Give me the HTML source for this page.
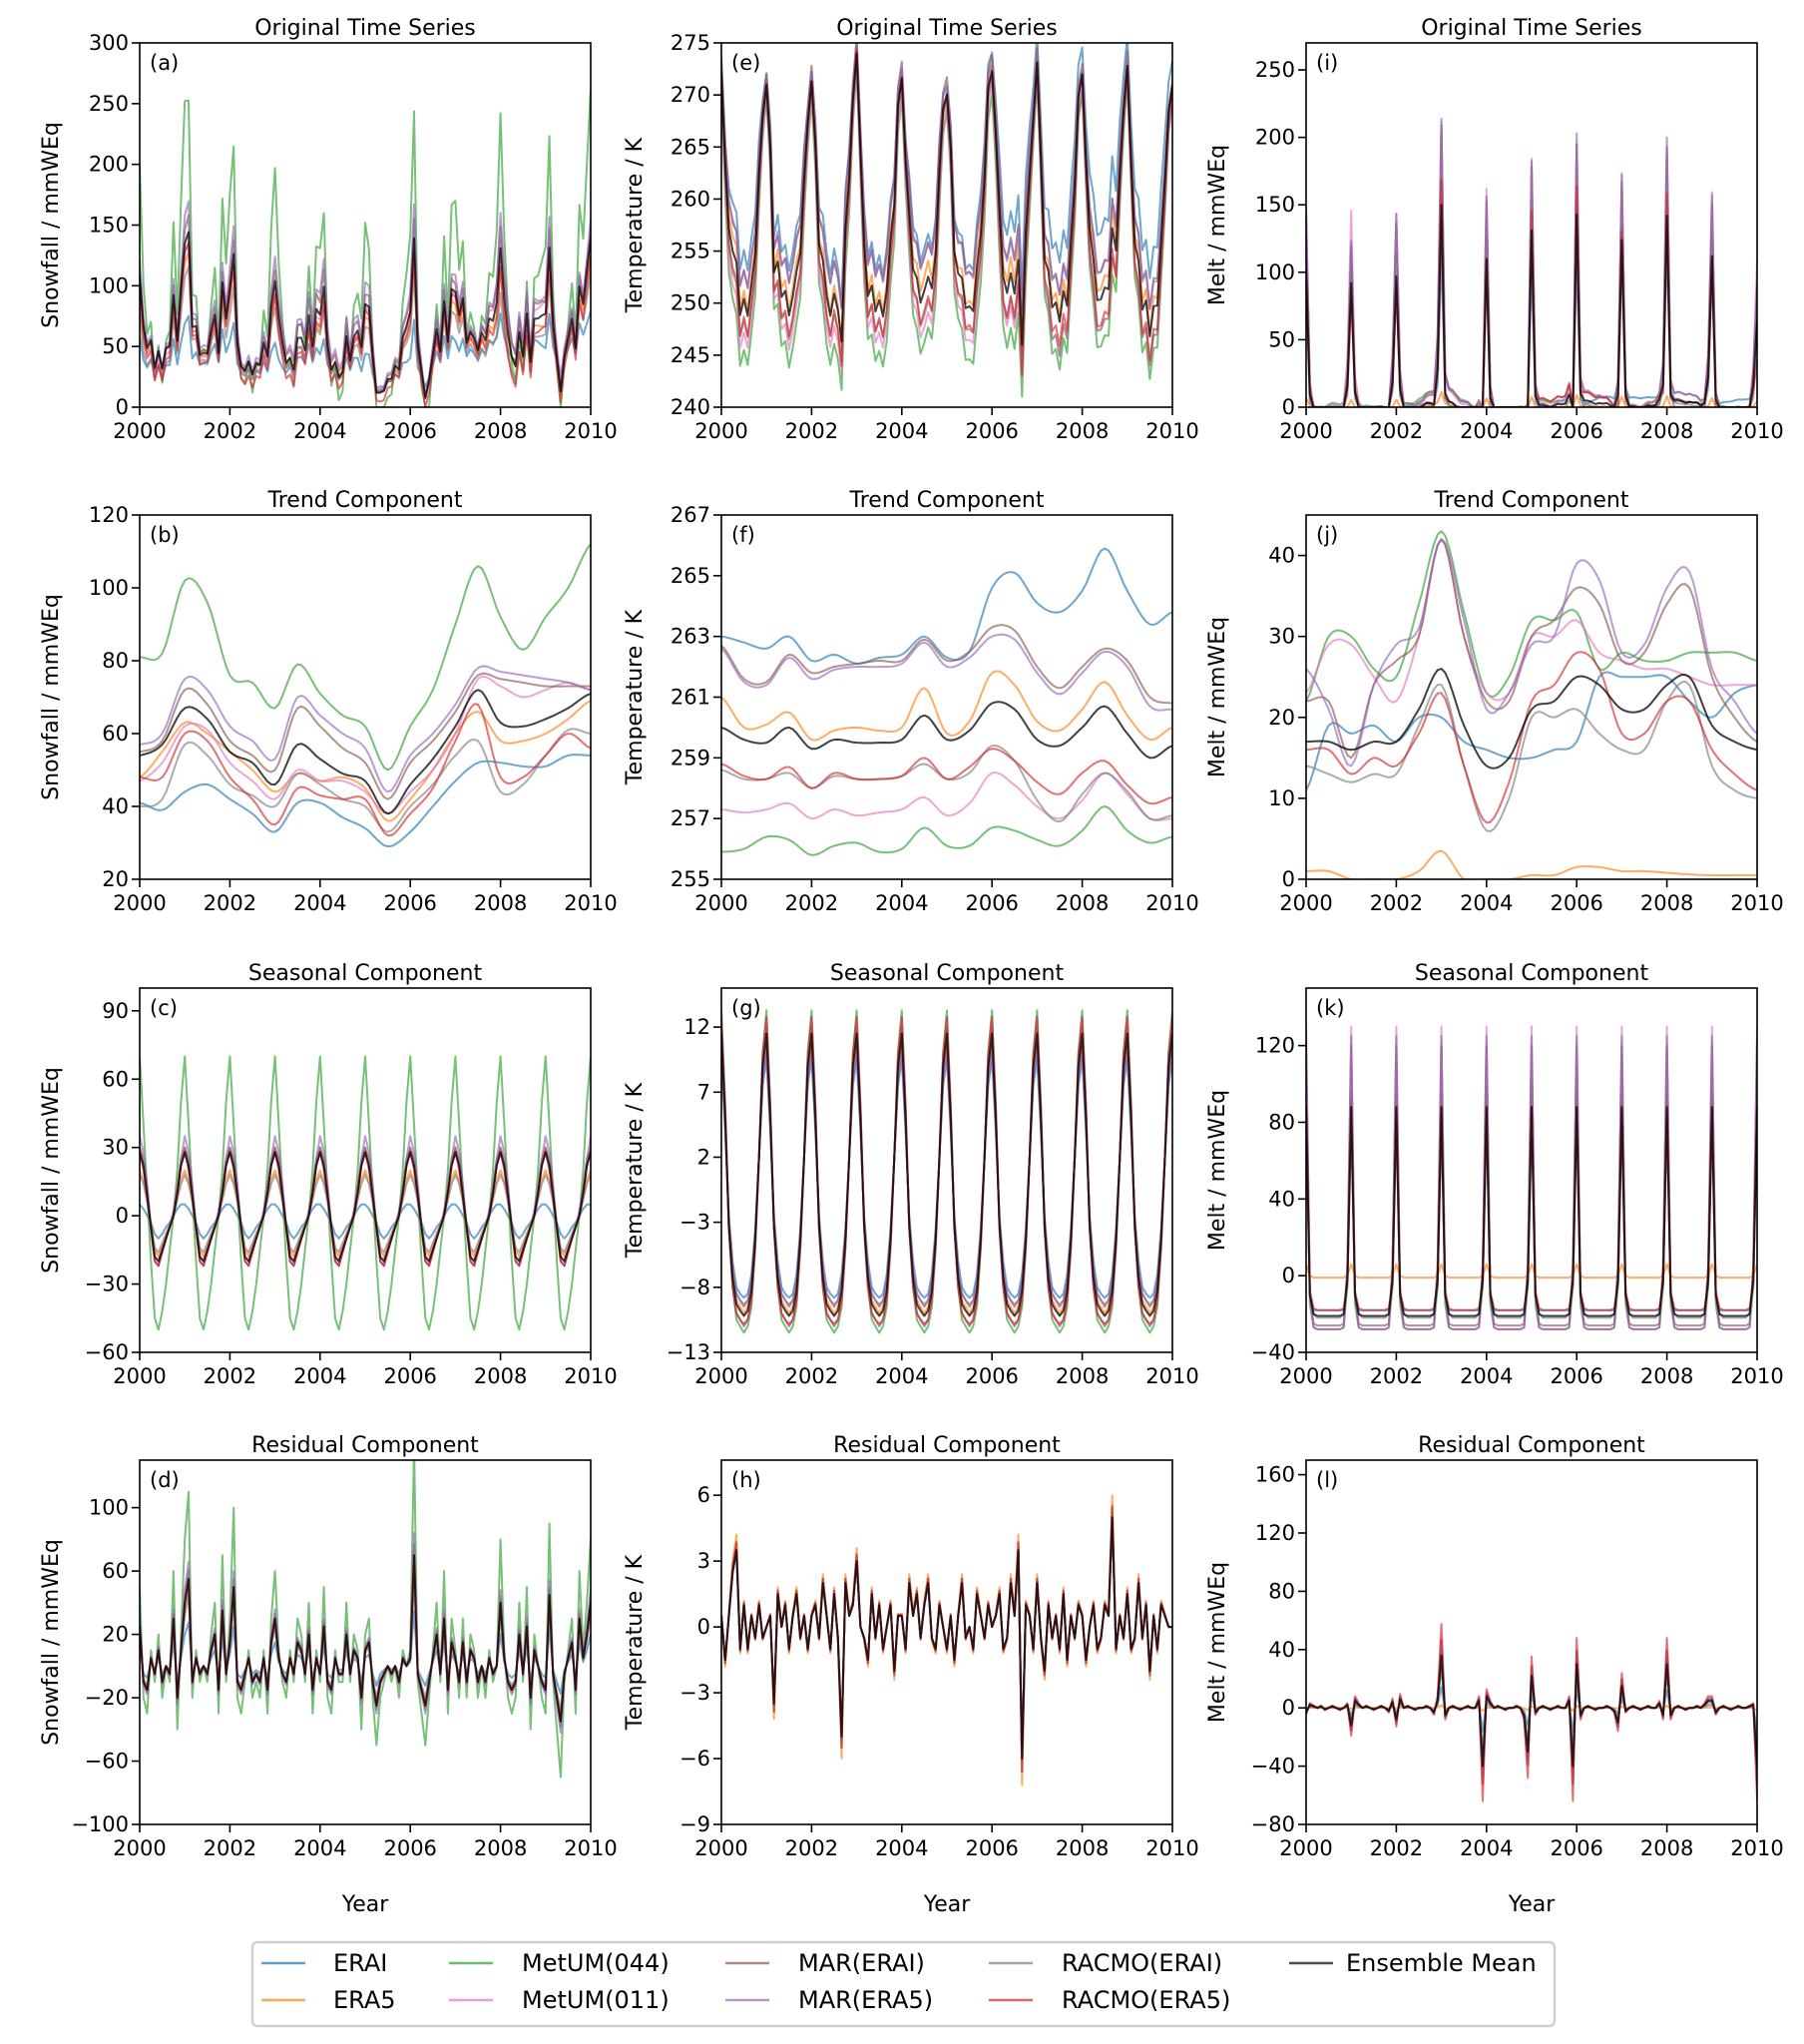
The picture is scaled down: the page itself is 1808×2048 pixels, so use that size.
<!DOCTYPE html>
<html><head><meta charset="utf-8"><style>
body{margin:0;background:#fff}
svg{display:block;font-family:"DejaVu Sans","Liberation Sans",sans-serif}
</style></head><body>
<svg id="fig" width="1808" height="2048" viewBox="0 0 1808 2048" xmlns="http://www.w3.org/2000/svg"></svg>
<script>
const seriesNames=["ERAI","ERA5","MetUM(044)","MetUM(011)","MAR(ERAI)","MAR(ERA5)","RACMO(ERAI)","RACMO(ERA5)","Ensemble Mean"];
const seriesColors=["#1f77b4","#ff7f0e","#2ca02c","#e377c2","#8c564b","#9467bd","#7f7f7f","#d62728","#000000"];
const xTicks=[2000,2002,2004,2006,2008,2010];
// Trend arrays: 21 values, every 6 months 2000..2010
const snowTrend=[
[41,39,44,46,42,38,33,41,41,37,34,29,33,40,47,52,52,51,51,54,54],
[48,55,63,60,55,50,44,49,47,48,45,36,42,50,60,66,58,58,60,64,69],
[81,82,102,96,76,74,67,79,71,65,62,50,62,72,90,106,92,83,92,100,112],
[47,52,62,61,52,47,42,50,47,47,44,38,44,50,60,75,73,70,72,74,72],
[55,58,72,68,58,54,50,67,62,56,52,42,52,58,66,76,75,74,73,73,73],
[57,60,75,72,62,58,53,70,65,60,56,44,54,60,68,78,77,76,75,74,72],
[40,42,57,54,46,43,40,49,46,42,40,33,40,46,54,58,44,46,54,61,60],
[48,48,60,58,48,42,35,45,43,42,42,32,38,45,58,68,48,48,54,60,56],
[54,57,67,64,55,52,46,57,53,49,47,38,46,53,62,72,63,62,64,67,71]];
const tempTrend=[
[263.0,262.8,262.6,263.0,262.2,262.4,262.1,262.3,262.4,263.0,262.3,262.5,264.6,265.1,264.1,263.8,264.5,265.9,264.5,263.4,263.8],
[261.0,260.0,260.1,260.5,259.6,259.9,260.0,259.9,260.0,261.3,259.8,260.2,261.8,261.4,260.2,259.9,260.6,261.5,260.4,259.6,260.0],
[255.9,256.0,256.4,256.3,255.8,256.1,256.2,255.9,256.0,256.7,256.1,256.1,256.7,256.6,256.3,256.1,256.6,257.4,256.6,256.2,256.4],
[257.3,257.2,257.3,257.5,257.0,257.3,257.1,257.2,257.3,257.7,257.1,257.5,258.5,258.1,257.4,257.0,257.6,258.5,257.8,257.0,257.0],
[262.7,261.6,261.5,262.4,261.8,262.0,262.1,262.2,262.2,262.9,262.2,262.5,263.3,263.2,262.0,261.3,262.0,262.6,262.2,261.0,260.8],
[262.6,261.5,261.4,262.3,261.6,261.9,262.0,262.0,262.1,262.8,262.0,262.3,263.0,262.9,261.8,261.1,261.8,262.5,262.0,260.7,260.6],
[258.6,258.3,258.3,258.5,258.0,258.4,258.3,258.3,258.4,258.8,258.3,258.5,259.4,258.9,257.6,256.9,257.8,258.5,257.9,257.0,257.1],
[258.8,258.4,258.3,258.7,258.0,258.5,258.3,258.3,258.4,259.0,258.3,258.7,259.3,258.9,258.2,257.8,258.5,258.9,258.1,257.5,257.7],
[260.0,259.6,259.5,260.0,259.3,259.6,259.5,259.5,259.6,260.4,259.6,259.9,260.8,260.6,259.6,259.4,260.0,260.7,259.8,259.0,259.4]];
const meltTrend=[
[11,19,18,19,17,20,20,17,16,15,15,16,17,25,25,25,25,22,20,23,24],
[1,1,0,0,0,1,3.5,0,0,0,0.5,0.5,1.5,1.5,1,1,0.8,0.6,0.5,0.5,0.5],
[22,30,30,26,25,34,43,33,23,25,32,32,33,26,28,27,27,28,28,28,27],
[23,29,29,25,22,30,42,30,23,23,30,30,32,28,27,26,26,25,24,24,24],
[22,22,15,24,27,30,42,30,22,22,30,32,36,34,27,28,34,36,25,20,17],
[26,21,14,24,29,31,42,32,21,23,29,30,39,37,28,29,36,38,26,22,18],
[14,13,12,13,13,19,24,14,6,10,20,20,21,18,16,16,22,24,14,11,10],
[16,16,13,15,14,18,23,14,7,12,22,24,28,26,18,18,22,22,16,13,11],
[17,17,16,17,17,21,26,19,14,15,21,22,25,24,21,21,24,25,19,17,16]];
// Seasonal climatology (Jan..Dec)
const snowSeason=[
[5,3,0,-3,-8,-10,-8,-5,-3,0,3,5],
[20,15,8,-4,-15,-18,-13,-8,-4,0,8,16],
[70,40,10,-20,-45,-50,-42,-30,-15,0,20,50],
[30,22,10,-5,-18,-20,-15,-10,-5,0,10,22],
[30,25,12,-5,-20,-22,-16,-10,-5,2,12,25],
[35,28,14,-5,-20,-22,-16,-10,-5,2,12,25],
[18,14,6,-4,-14,-16,-12,-8,-4,0,7,14],
[28,20,8,-6,-20,-22,-16,-10,-5,0,10,22],
[28,22,9,-5,-18,-20,-15,-10,-5,0,10,22]];
const tempSeason=[
[9.5,4,-2.5,-6,-8,-8.5,-8.8,-8.5,-7,-3.5,2,7.5],
[11,5,-3,-7,-9,-9.5,-10,-9.5,-8,-4,2,8.5],
[13.3,6,-3.5,-8,-10.5,-11,-11.5,-11,-9.5,-5,2,10],
[12.5,5.5,-3.5,-8,-10,-10.5,-11,-10.5,-9,-4.5,2,9.5],
[10.5,4.5,-3,-7,-8.5,-9,-9.5,-9,-7.5,-4,2,8],
[10,4.5,-3,-6.5,-8.5,-9,-9.3,-9,-7.5,-4,2,8],
[12,5.5,-3.5,-8,-10,-10.5,-11,-10.5,-9,-4.5,2,9.5],
[12.8,6,-3.5,-8,-10,-10.5,-10.8,-10.5,-9,-5,2,10],
[11.5,5,-3.2,-7.3,-9.3,-9.8,-10.2,-9.8,-8.3,-4.3,2,9]];
const meltSeason=[
[80,-10,-18,-18,-18,-18,-18,-18,-18,-18,-18,-5],
[6,0,-1,-1,-1,-1,-1,-1,-1,-1,-1,0],
[95,-15,-27,-28,-28,-28,-28,-28,-28,-28,-27,-5],
[130,-10,-27,-28,-28,-28,-28,-28,-28,-28,-27,5],
[120,-10,-25,-26,-26,-26,-26,-26,-26,-26,-25,5],
[125,-10,-27,-28,-28,-28,-28,-28,-28,-28,-27,5],
[85,-10,-20,-22,-22,-22,-22,-22,-22,-22,-20,-5],
[88,-8,-17,-18,-18,-18,-18,-18,-18,-18,-17,-3],
[88,-10,-20,-21,-21,-21,-21,-21,-21,-21,-20,-2]];
// Residual (ensemble, monthly 2000..2010) and per-series scale
const snowResid=[25,-10,-15,5,-5,10,-10,0,-5,30,-20,10,40,55,-10,5,-5,0,-5,10,20,-15,35,-5,15,50,-10,-15,-5,5,-10,-5,-10,5,-15,15,30,5,-5,-10,5,-5,15,10,-5,20,-15,5,-5,25,-10,-15,5,-5,-5,20,-5,10,5,-20,10,15,-10,-25,-10,-5,0,-5,0,-10,5,0,5,70,-5,-15,-25,-10,5,20,-5,30,-15,15,5,-10,15,-10,10,5,-10,0,-10,5,-5,0,40,5,-10,-15,-10,20,-5,25,-20,10,0,-10,-15,45,-5,-20,-35,-5,5,15,-15,30,5,20,40];
const tempResid=[0.5,-1.5,0.5,2.5,3.5,-1,1,-1,0.5,-0.5,1,-0.5,0,0.5,-3.5,1.5,0,1,-1,0.5,1.5,-0.5,0.5,-1,0.5,1,-0.5,2,0.5,-1,1.5,-0.5,-5,2,0.5,1,3,0,-0.5,-1.5,1.5,-0.5,1,-1,0,1,-2,0.5,0.5,-1,2,0.5,1.5,-0.5,1,2,-0.5,-1,1,0,-1,0.5,-1.5,0.5,2,-0.5,0,-1,1.5,0.5,-0.5,1,0,0.5,1.5,-1,-0.5,2,0.5,3.5,-6,1,0.5,-1,2,-0.5,-2,1,-0.5,0.5,-1,1.5,-1.5,0.5,-0.5,1,0.5,-1.5,0,1,-1,-0.5,1,0.5,5,-1,0.5,-0.5,1.5,-1,-0.5,2,-0.5,1,-2,0.5,-1,1,0.5,0,0];
const meltResid=[-3,2,1,0,1,-1,0,1,0,-1,0,2,-12,5,2,0,1,0,-1,0,1,0,-2,4,-8,6,0,1,0,-1,0,0,1,0,-3,5,36,-5,0,1,0,-1,0,1,0,0,5,-40,8,3,0,1,0,-1,0,0,1,0,-5,-30,22,-3,0,1,0,-1,0,1,0,0,5,-40,30,-5,0,1,0,-1,0,0,1,0,-2,-10,15,-2,0,1,0,-1,0,1,0,0,3,-5,30,-5,0,1,0,-1,0,0,1,0,2,5,5,-3,0,1,0,-1,0,1,0,0,1,2,-40];
const snowScale=[0.5,0.9,2.0,0.9,1.1,1.2,0.8,1.0,1.0];
const tempScale=[1.1,1.2,1.0,1.0,1.0,1.0,1.0,1.1,1.0];
const meltScale=[0.4,0.05,0.8,1.1,1.3,1.3,0.8,1.6,1.0];
// Axis tick arrays
const snowTicks=[[0,50,100,150,200,250,300],[20,40,60,80,100,120],[-60,-30,0,30,60,90],[-100,-60,-20,20,60,100]];
const tempTicks=[[240,245,250,255,260,265,270,275],[255,257,259,261,263,265,267],[-13,-8,-3,2,7,12],[-9,-6,-3,0,3,6]];
const meltTicks=[[0,50,100,150,200,250],[0,10,20,30,40],[-40,0,40,80,120],[-80,-40,0,40,80,120,160]];
const snowLims=[[0,300],[20,120],[-60,100],[-100,130]];
const tempLims=[[240,275],[255,267],[-13,15],[-9,7.6]];
const meltLims=[[0,270],[0,45],[-40,150],[-80,170]];

const NS="http://www.w3.org/2000/svg";
const svg=document.getElementById('fig');
function el(tag,attrs,parent){const e=document.createElementNS(NS,tag);for(const k in attrs)e.setAttribute(k,attrs[k]);(parent||svg).appendChild(e);return e;}
function spline(arr,t){
  const i=Math.min(Math.floor(t),arr.length-2),f=t-i;
  const p0=arr[Math.max(i-1,0)],p1=arr[i],p2=arr[i+1],p3=arr[Math.min(i+2,arr.length-1)];
  return 0.5*((2*p1)+(-p0+p2)*f+(2*p0-5*p1+4*p2-p3)*f*f+(-p0+3*p1-3*p2+p3)*f*f*f);
}
const N=121;
function comps(trend,season,resid,scale,clamp){
  return trend.map((tr,s)=>{
    const T=[],S=[],R=[],O=[];
    for(let m=0;m<N;m++){
      const tv=spline(tr,m/6);const sv=season[s][m%12];const rv=resid[m]*scale[s];
      T.push(tv);S.push(sv);R.push(rv);let o=tv+sv+rv;if(clamp&&o<0)o=0;O.push(o);
    }
    return {T,S,R,O};
  });
}
const vars=[
 {c:comps(snowTrend,snowSeason,snowResid,snowScale,true),ticks:snowTicks,lims:snowLims,label:"Snowfall / mmWEq",letters:["a","b","c","d"],lx:58},
 {c:comps(tempTrend,tempSeason,tempResid,tempScale,false),ticks:tempTicks,lims:tempLims,label:"Temperature / K",letters:["e","f","g","h"],lx:643},
 {c:comps(meltTrend,meltSeason,meltResid,meltScale,true),ticks:meltTicks,lims:meltLims,label:"Melt / mmWEq",letters:["i","j","k","l"],lx:1227}];
const colX=[140,723,1309],rowY=[43,516,990,1463],W=452,H=365;
const titles=["Original Time Series","Trend Component","Seasonal Component","Residual Component"];
const keys=["O","T","S","R"];
vars.forEach((v,ci)=>{
  for(let r=0;r<4;r++){
    const x0=colX[ci],y0=rowY[r];
    const g=el('g',{});
    
    
    const [lo,hi]=v.lims[r];
    const xs=t=>x0+(t-2000)/10*W;
    const ys=val=>y0+H-(val-lo)/(hi-lo)*H;
    const clip=el('clipPath',{id:'cp'+ci+r},g);el('rect',{x:x0,y:y0,width:W,height:H},clip);
    const lines=el('g',{'clip-path':'url(#cp'+ci+r+')'},g);
    v.c.forEach((sd,s)=>{
      const arr=sd[keys[r]];
      const d=arr.map((val,m)=>(m?'L':'M')+xs(2000+m/12).toFixed(1)+','+ys(val).toFixed(1)).join('');
      const p=el('path',{d:d,fill:'none',stroke:seriesColors[s],'stroke-width':2,'stroke-opacity':s==8?0.75:0.65,'stroke-linejoin':'round'},lines);
      
      
    });
    el('rect',{x:x0,y:y0,width:W,height:H,fill:'none',stroke:'#000','stroke-width':1.6},g);
    xTicks.forEach(t=>{
      el('line',{x1:xs(t),x2:xs(t),y1:y0+H,y2:y0+H+8,stroke:'#000','stroke-width':1.6},g);
      const tx=el('text',{x:xs(t),y:y0+H+31,'font-size':21,'text-anchor':'middle'},g);tx.textContent=t;
      
      
    });
    v.ticks[r].forEach(t=>{
      el('line',{x1:x0-8,x2:x0,y1:ys(t),y2:ys(t),stroke:'#000','stroke-width':1.6},g);
      const tx=el('text',{x:x0-11,y:ys(t)+7,'font-size':21,'text-anchor':'end'},g);tx.textContent=String(t).replace('-','\u2212');
      
      
    });
    const ti=el('text',{x:x0+W/2,y:y0-8,'font-size':22,'text-anchor':'middle'},g);ti.textContent=titles[r];
    
    
    const lb=el('text',{x:x0+10,y:y0+27,'font-size':21},g);lb.textContent='('+v.letters[r]+')';
    
    
    const yl=el('text',{x:v.lx,y:y0+H/2,'font-size':22,'text-anchor':'middle',transform:'rotate(-90 '+v.lx+' '+(y0+H/2)+')'},g);yl.textContent=v.label;
    
    
    if(r==3){const xl=el('text',{x:x0+W/2,y:1915,'font-size':22,'text-anchor':'middle'},g);xl.textContent='Year';
      
      }
  }
});
// legend
const lg=el('g',{});


el('rect',{x:253,y:1946,width:1305,height:84,rx:5,fill:'#fff',stroke:'#d0d0d0','stroke-width':2.5},lg);
const lgX=[262,450,727,991,1292],txX=[334,523,800,1064,1349],rowsY=[1967,2004];
seriesNames.forEach((n,s)=>{
  const c=Math.floor(s/2),rr=s%2;
  const e=el('g',{},lg);
  
  
  el('line',{x1:lgX[c],x2:lgX[c]+44,y1:rowsY[rr],y2:rowsY[rr],stroke:seriesColors[s],'stroke-width':2.5,'stroke-opacity':0.7},e);
  const t=el('text',{x:txX[c],y:rowsY[rr]+8,'font-size':24},e);t.textContent=n;
});
</script>
</body></html>
